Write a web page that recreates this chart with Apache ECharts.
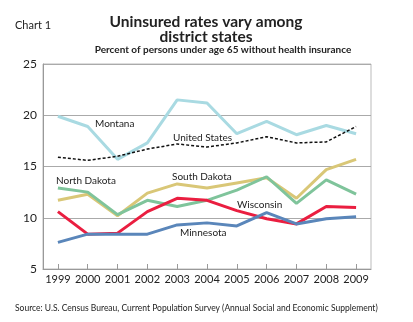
<!DOCTYPE html>
<html><head><meta charset="utf-8">
<script src="https://cdn.jsdelivr.net/npm/echarts@6/dist/echarts.min.js"></script>
<style>html,body{margin:0;padding:0;background:#fff}#c{width:413px;height:322px}</style>
</head><body><div id="c"></div>
<script>
var years = ['1999','2000','2001','2002','2003','2004','2005','2006','2007','2008','2009'];
var montana = [19.9,18.9,15.7,17.3,21.5,21.2,18.2,19.4,18.1,19.0,18.2];
var unitedStates = [15.9,15.6,16.0,16.7,17.2,16.9,17.3,17.9,17.3,17.4,18.9];
var southDakota = [11.7,12.3,10.2,12.4,13.3,12.9,13.4,13.9,11.9,14.7,15.7];
var northDakota = [12.9,12.5,10.3,11.7,11.1,11.7,12.7,14.0,11.4,13.7,12.3];
var wisconsin = [10.6,8.4,8.5,10.6,11.9,11.7,10.7,9.9,9.4,11.1,11.0];
var minnesota = [7.6,8.4,8.4,8.4,9.3,9.5,9.2,10.5,9.4,9.9,10.1];
var yTicks = [5,10,15,20,25];

var FONT = 'Lato';
var chart = echarts.init(document.getElementById('c'));
function ser(name, data, color, w, dashed){
  return {name:name,type:'line',data:data,symbol:'none',smooth:false,
    lineStyle:{color:color,width:w,type:dashed?[3,2]:'solid'},z:dashed?5:2,animation:false};
}
function txt(x,y,s,size,weight,align){
  return {type:'text',x:x,y:y,style:{text:s,font:(weight||'normal')+' '+size+'px '+FONT,fill:'#222',textAlign:align||'left',textVerticalAlign:'middle'}};
}
chart.setOption({
  animation:false,
  grid:{left:43,right:42,top:64,bottom:53,show:true,borderColor:'#bbb',borderWidth:1,backgroundColor:'transparent'},
  xAxis:{type:'category',data:years,boundaryGap:true,
    axisLine:{lineStyle:{color:'#999',width:1}},
    axisTick:{show:true,alignWithLabel:true,inside:true,length:5,lineStyle:{color:'#999'}},
    axisLabel:{color:'#222',fontSize:11,fontFamily:FONT,margin:5,interval:0}},
  yAxis:{type:'value',min:yTicks[0],max:yTicks[yTicks.length-1],interval:5,
    axisLine:{show:true,lineStyle:{color:'#999'}},axisTick:{show:false},
    splitLine:{show:true,lineStyle:{color:'#aaa',width:1}},
    axisLabel:{color:'#222',fontSize:12,fontFamily:FONT,margin:6}},
  series:[
    ser('Montana',montana,'#a9dae2',3),
    ser('South Dakota',southDakota,'#d9c777',3),
    ser('North Dakota',northDakota,'#7fc49b',3),
    ser('Wisconsin',wisconsin,'#ea1e40',3),
    ser('Minnesota',minnesota,'#5a86ba',3),
    ser('United States',unitedStates,'#111',1.5,true)
  ],
  graphic:[
    txt(15,25,'Chart 1',11,'normal'),
    txt(206,22,'Uninsured rates vary among',15.5,'bold','center'),
    txt(206,37,'district states',15.5,'bold','center'),
    txt(223,50,'Percent of persons under age 65 without health insurance',10,'bold','center'),
    txt(95,124,'Montana',10),
    txt(173,138,'United States',10),
    txt(56,181,'North Dakota',10),
    txt(172,177,'South Dakota',10),
    txt(237,205,'Wisconsin',10),
    txt(180,233,'Minnesota',10),
    txt(15,308,'Source: U.S. Census Bureau, Current Population Survey (Annual Social and Economic Supplement)',8.5)
  ]
});
</script></body></html>
